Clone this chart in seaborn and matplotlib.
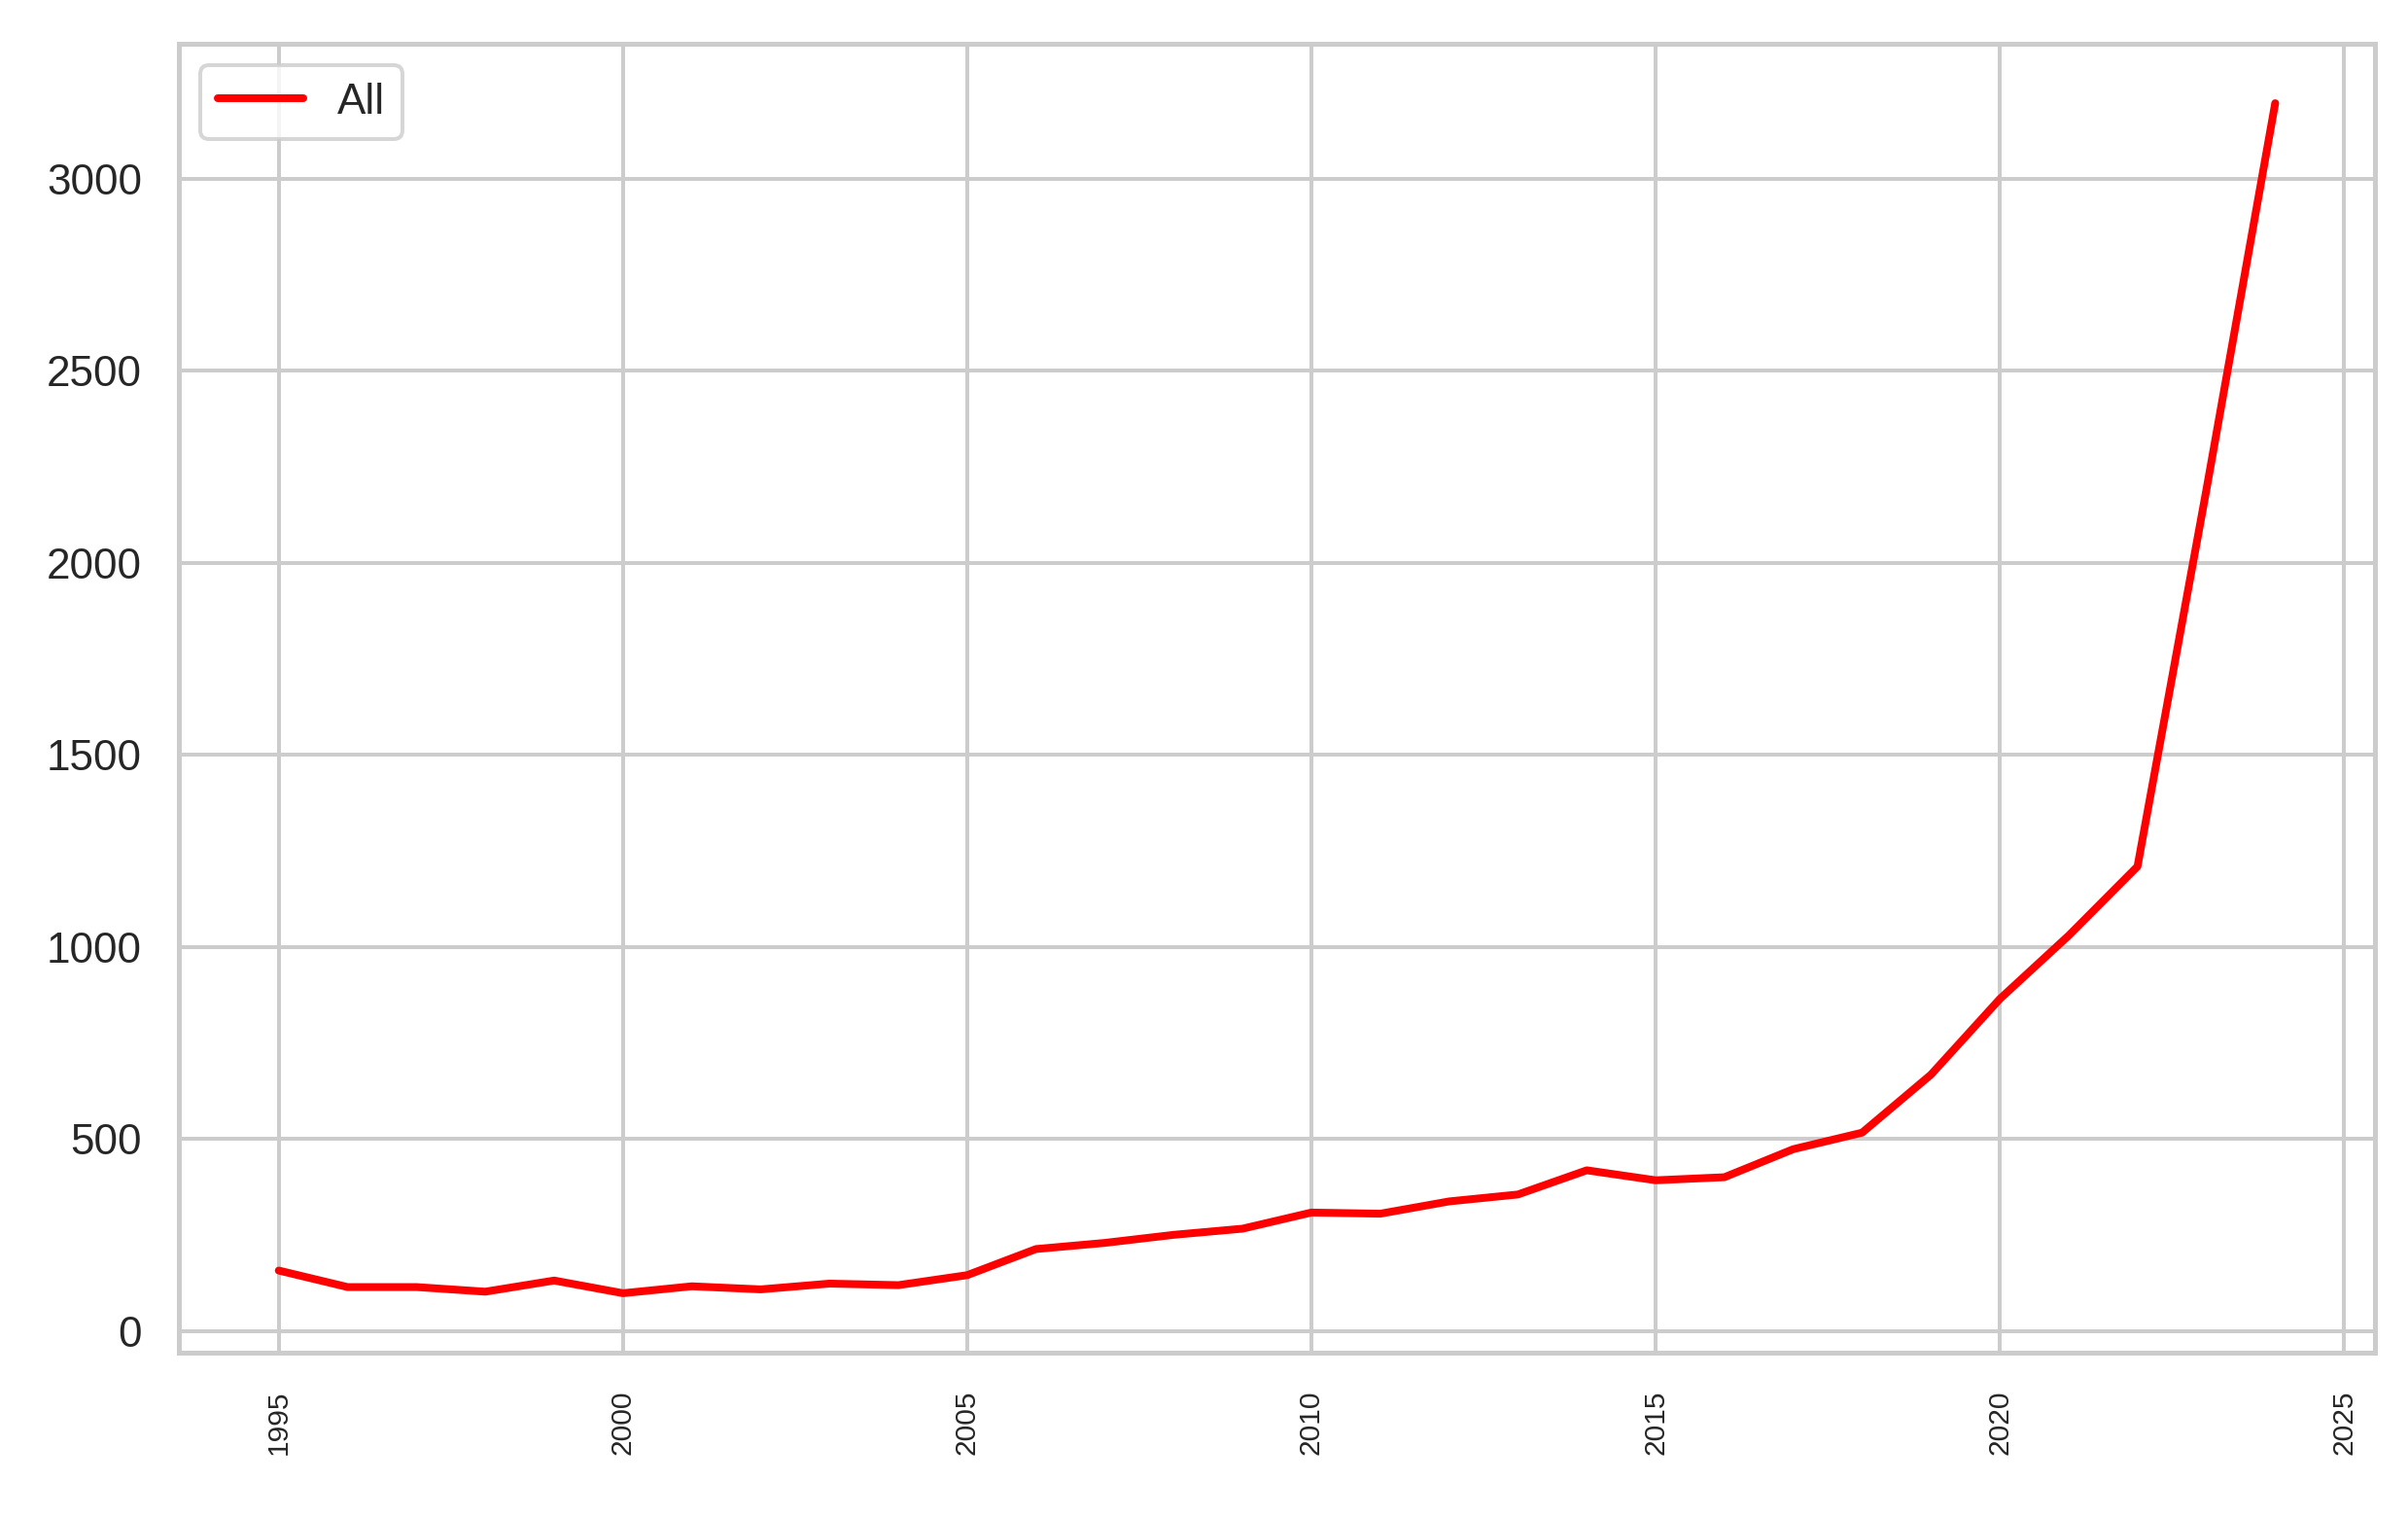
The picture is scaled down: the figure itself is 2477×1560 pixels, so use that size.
import numpy as np
import pandas as pd
import matplotlib
matplotlib.use('Agg')
import matplotlib.pyplot as plt
import seaborn as sns

# Yillara gore degerler
years = list(range(1995, 2025))
values = [158, 115, 115, 103, 132, 99, 117, 109, 124, 120,
          146, 214, 230, 251, 267, 309, 306, 338, 356, 419,
          393, 401, 474, 517, 668, 865, 1030, 1210, 2190, 3197]
series_label = 'All'

sns.set_theme(style='whitegrid')
plt.rcParams['font.family'] = ['Liberation Sans', 'DejaVu Sans']

df = pd.DataFrame({'Year': years, 'Count': values})

fig = plt.figure(figsize=(2477 / 288, 1560 / 288), dpi=288)
ax = fig.add_axes([0.0743, 0.1083, 0.912, 0.8629])
sns.lineplot(x='Year', y='Count', data=df, color='red', linewidth=2,
             label=series_label, ax=ax)
ax.set_xlabel('')
ax.set_ylabel('')
ax.set_xticks([1995, 2000, 2005, 2010, 2015, 2020, 2025])
plt.xticks(rotation=90, fontsize=7.5)
plt.yticks(fontsize=11)
ax.legend(loc='upper left', fontsize=11)
fig.savefig('out.png', dpi=288)
